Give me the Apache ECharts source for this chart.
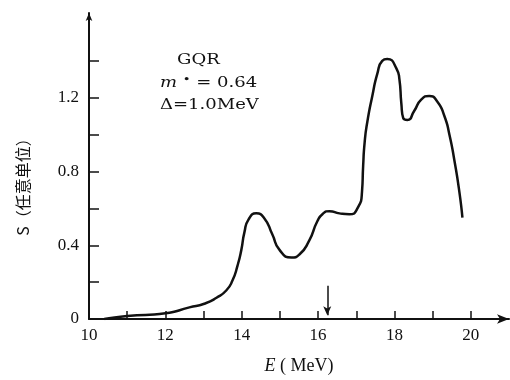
<!DOCTYPE html>
<html>
<head>
<meta charset="utf-8">
<script src="https://cdn.jsdelivr.net/npm/echarts@6/dist/echarts.min.js"></script>
<style>html,body{margin:0;padding:0;background:#fff;}#c{width:510px;height:380px;}</style>
</head>
<body>
<div id="c"></div>
<script>
// Data
const energy = [10.4, 11.0, 12.0, 12.63, 13.02, 13.34, 13.6, 13.76, 13.89, 13.99, 14.07, 14.18, 14.38, 14.59, 14.8, 14.99, 15.3, 15.51, 15.77, 15.98, 16.12, 16.3, 16.56, 16.82, 17.03, 17.15, 17.18, 17.22, 17.29, 17.42, 17.55, 17.68, 17.81, 18.05, 18.13, 18.18, 18.23, 18.34, 18.52, 18.7, 18.91, 19.12, 19.31, 19.44, 19.57, 19.7, 19.78];
const strength = [0.0, 0.016, 0.031, 0.063, 0.083, 0.115, 0.156, 0.21, 0.29, 0.375, 0.47, 0.54, 0.573, 0.547, 0.46, 0.375, 0.333, 0.35, 0.427, 0.53, 0.57, 0.585, 0.573, 0.568, 0.6, 0.69, 0.83, 0.96, 1.07, 1.21, 1.33, 1.4, 1.41, 1.36, 1.3, 1.17, 1.09, 1.08, 1.13, 1.19, 1.21, 1.18, 1.1, 1.0, 0.86, 0.69, 0.55];
const xTickLabels = [10, 12, 14, 16, 18, 20];
const xTicks = [11, 12, 13, 14, 15, 16, 17, 18, 19, 20];
const yTickLabels = [0, 0.4, 0.8, 1.2];
const yTicks = [0.2, 0.4, 0.6, 0.8, 1.0, 1.2, 1.4];
const markerEnergy = 16.24;
const markerRange = [0.18, 0.02];
const xName = 'E';
const xUnit = ' ( MeV)';
const yName = 'S（任意单位）';
const noteLines = ['GQR', '0.64', '1.0MeV'];

const ink = '#111';
const serif = 'Liberation Serif';
const chart = echarts.init(document.getElementById('c'), null, {renderer: 'canvas'});
const seriesData = energy.map((e, i) => [e, strength[i]]);

chart.setOption({
  backgroundColor: '#fff',
  animation: false,
  grid: {left: 89, top: 13, width: 420, bottom: 48, containLabel: false},
  xAxis: {
    type: 'value', min: 10, max: 21,
    name: '{i|' + xName + '}' + xUnit,
    nameLocation: 'middle', nameGap: 38,
    nameTextStyle: {color: ink, fontFamily: serif, fontSize: 18,
      rich: {i: {fontStyle: 'italic', fontFamily: serif, fontSize: 18, color: ink}}},
    axisLine: {show: true, symbol: ['none', 'arrow'], symbolSize: [7, 12], lineStyle: {color: ink, width: 2}},
    axisTick: {show: true, inside: true, length: 8, customValues: xTicks, lineStyle: {color: ink, width: 1.5}},
    axisLabel: {show: true, customValues: xTickLabels, color: ink, fontFamily: serif, fontSize: 17, margin: 8},
    splitLine: {show: false}
  },
  yAxis: {
    type: 'value', min: 0, max: 1.66,
    axisLine: {show: true, symbol: ['none', 'arrow'], symbolSize: [5, 8], lineStyle: {color: ink, width: 2}},
    axisTick: {show: true, inside: true, length: 10, customValues: yTicks, lineStyle: {color: ink, width: 1.5}},
    axisLabel: {show: true, customValues: yTickLabels, color: ink, fontFamily: serif, fontSize: 17, margin: 10,
      formatter: v => v === 0 ? '0' : v.toFixed(1)},
    splitLine: {show: false}
  },
  series: [{
    type: 'line',
    data: seriesData,
    smooth: 0.6,
    showSymbol: false,
    lineStyle: {color: ink, width: 2.5},
    markLine: {
      silent: true,
      symbol: ['none', 'arrow'],
      symbolSize: [6, 9],
      label: {show: false},
      lineStyle: {color: ink, width: 1.5, type: 'solid'},
      data: [[{coord: [markerEnergy, markerRange[0]]}, {coord: [markerEnergy, markerRange[1]]}]]
    }
  }],
  graphic: [
    {type: 'text', x: 23, y: 183, rotation: Math.PI / 2,
      style: {text: yName, fill: ink, font: '16px "Noto Sans CJK SC"', align: 'center', verticalAlign: 'middle'}},
    {type: 'text', x: 177, y: 60, scaleX: 1.2,
      style: {text: noteLines[0], fill: ink, font: '15px "DejaVu Serif"', align: 'left', verticalAlign: 'middle'}},
    {type: 'text', x: 160, y: 83, scaleX: 1.2,
      style: {text: '{i|m} {s|•} = ' + noteLines[1], fill: ink, font: '15px "DejaVu Serif"', align: 'left', verticalAlign: 'middle',
        rich: {i: {fontStyle: 'italic', fontFamily: 'DejaVu Serif', fontSize: 15, fill: ink},
               s: {fontSize: 11, fontFamily: 'DejaVu Serif', fill: ink, verticalAlign: 'top', padding: [0, 0, 6, 0]}}}},
    {type: 'text', x: 160, y: 105, scaleX: 1.2,
      style: {text: 'Δ=' + noteLines[2], fill: ink, font: '15px "DejaVu Serif"', align: 'left', verticalAlign: 'middle'}}
  ]
});
</script>
</body>
</html>
